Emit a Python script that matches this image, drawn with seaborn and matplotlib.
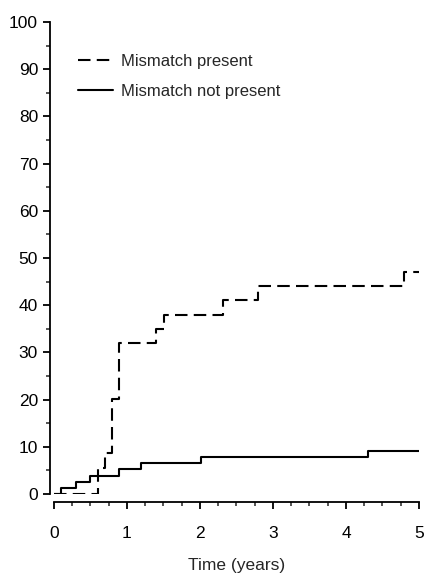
import matplotlib
matplotlib.use("Agg")
import matplotlib.pyplot as plt
from matplotlib.ticker import MultipleLocator
import seaborn as sns

# step curves (time in years, cumulative %)
present_time = [0, 0.6, 0.7, 0.79, 0.89, 1.4, 1.51, 2.31, 2.8, 4.8, 5.0]
present_pct = [0, 5.6, 8.6, 20.2, 32.0, 35.0, 38.0, 41.0, 44.0, 47.0, 47.0]
absent_time = [0, 0.1, 0.3, 0.5, 0.89, 1.19, 2.01, 4.3, 5.0]
absent_pct = [0, 1.3, 2.5, 3.9, 5.2, 6.5, 7.8, 9.1, 9.1]

sns.set_style("ticks")
plt.rcParams['font.family'] = ['Liberation Sans', 'DejaVu Sans']

fig = plt.figure(figsize=(4.27, 5.74), dpi=100)
ax = fig.add_axes([54 / 427, 80 / 574, 365 / 427, 472 / 574])

sns.lineplot(x=present_time, y=present_pct, ax=ax, drawstyle='steps-post',
             color='black', linewidth=1.5, dashes=False, label='Mismatch present')
ax.lines[-1].set_linestyle((0, (6, 3)))
sns.lineplot(x=absent_time, y=absent_pct, ax=ax, drawstyle='steps-post',
             color='black', linewidth=1.5, label='Mismatch not present')

ax.set_xlim(0, 5)
ax.set_ylim(0, 100)
ax.xaxis.set_major_locator(MultipleLocator(1))
ax.xaxis.set_minor_locator(MultipleLocator(0.25))
ax.yaxis.set_major_locator(MultipleLocator(10))
ax.yaxis.set_minor_locator(MultipleLocator(5))
ax.tick_params(which='major', length=5, width=1.3, labelsize=12.5, colors='black')
ax.tick_params(which='minor', length=3, width=1.1)
ax.tick_params(axis='x', which='major', pad=12)

for s in ['top', 'right']:
    ax.spines[s].set_visible(False)
ax.spines['left'].set_position(('outward', 3))
ax.spines['bottom'].set_position(('outward', 6))
for s in ['left', 'bottom']:
    ax.spines[s].set_linewidth(1.3)
    ax.spines[s].set_color('black')

ax.set_xlabel('Time (years)', fontsize=12.5, labelpad=12)
ax.set_ylabel('')

leg = ax.legend(loc='upper left', bbox_to_anchor=(0.025, 0.964), frameon=False,
                fontsize=12, handlelength=2.1, labelspacing=0.9, handletextpad=0.5)

fig.savefig('out.png', dpi=100)
